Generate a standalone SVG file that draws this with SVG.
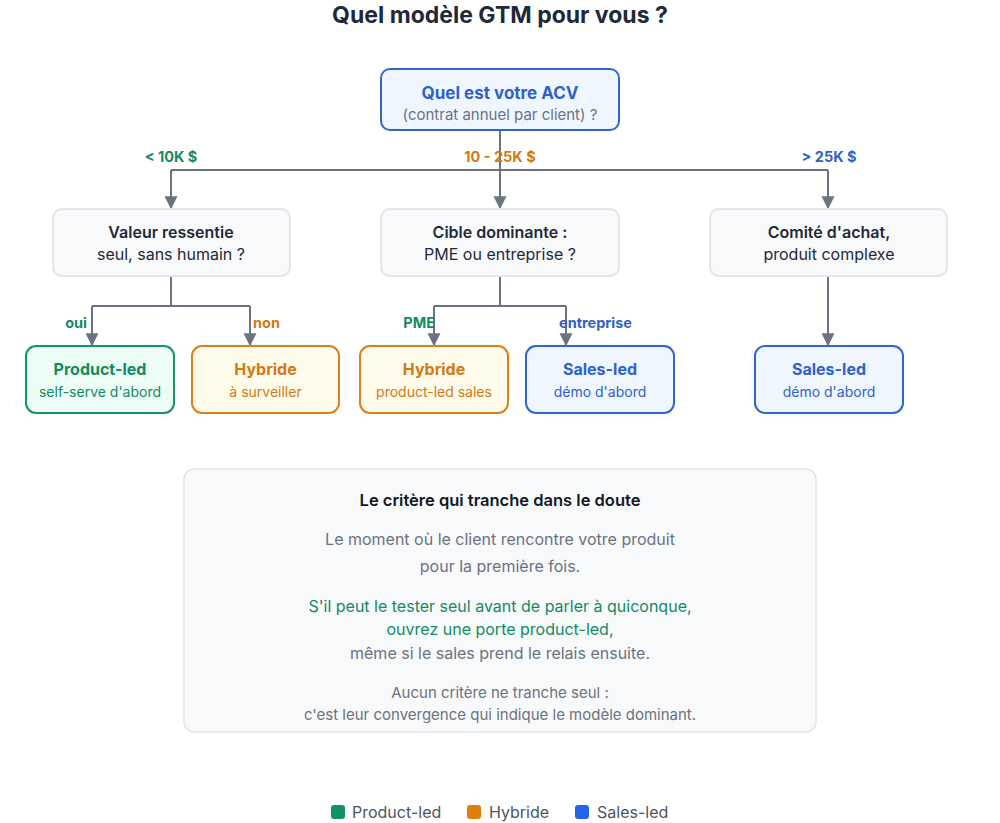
<svg xmlns="http://www.w3.org/2000/svg" width="1000" height="823" viewBox="0 0 1000 823">
<defs>
<marker id="arr" viewBox="0 0 10 10" refX="9" refY="5" markerWidth="13" markerHeight="14" orient="auto" markerUnits="userSpaceOnUse">
<path d="M0,0 L10,5 L0,10 z" fill="#6b7280"/>
</marker>
<style>
text{font-family:Inter,"Noto Sans","Liberation Sans",sans-serif;text-anchor:middle}
.title{font-size:23px;font-weight:700;fill:#1f2937}
.q{fill:#f8f9fb;stroke:#e3e5e9;stroke-width:2}
.qt{font-size:16px;font-weight:600;fill:#1f2937}
.qs{font-size:16px;fill:#1f2937}
.blueBox{fill:#eff6ff;stroke:#2f66d0;stroke-width:2}
.greenBox{fill:#ecfdf5;stroke:#17926a;stroke-width:2}
.orangeBox{fill:#fffbeb;stroke:#d9811a;stroke-width:2}
.bt{font-size:16px;font-weight:700}
.bs{font-size:14px}
.blue{fill:#2f62c8}
.green{fill:#138a62}
.orange{fill:#d27914}
.gray{fill:#6b7280}
.lbl{font-size:14.5px;font-weight:700}
.conn{fill:none;stroke:#6b7280;stroke-width:2}
.panel{fill:#f8f9fb;stroke:#e3e5e9;stroke-width:1.5}
.pt{font-size:16.5px;font-weight:600;fill:#111827}
.pl{font-size:16px}
.ps{font-size:15px}
.leg{font-size:16px;fill:#4b5563;text-anchor:start}
</style>
</defs>
<rect width="1000" height="823" fill="#ffffff"/>
<text class="title" x="500" y="23">Quel modèle GTM pour vous ?</text>

<g id="connectors">
<path class="conn" d="M500,130 V170 M171,170 H828"/>
<path class="conn" d="M171,170 V208" marker-end="url(#arr)"/>
<path class="conn" d="M500,170 V208" marker-end="url(#arr)"/>
<path class="conn" d="M828,170 V208" marker-end="url(#arr)"/>
<path class="conn" d="M171,277 V306 M92,306 H250"/>
<path class="conn" d="M92,306 V345" marker-end="url(#arr)"/>
<path class="conn" d="M250,306 V345" marker-end="url(#arr)"/>
<path class="conn" d="M500,277 V306 M434,306 H566"/>
<path class="conn" d="M434,306 V345" marker-end="url(#arr)"/>
<path class="conn" d="M566,306 V345" marker-end="url(#arr)"/>
<path class="conn" d="M828,277 V345" marker-end="url(#arr)"/>
<text class="lbl green" x="171" y="162">&lt; 10K $</text>
<text class="lbl orange" x="500" y="162">10 - 25K $</text>
<text class="lbl blue" x="829" y="162">&gt; 25K $</text>
<text class="lbl green" x="87" y="328" style="text-anchor:end">oui</text>
<text class="lbl orange" x="253" y="328" style="text-anchor:start">non</text>
<text class="lbl green" x="435" y="328" style="text-anchor:end">PME</text>
<text class="lbl blue" x="559" y="328" style="text-anchor:start">entreprise</text>
</g>

<g id="acv">
<rect class="blueBox" x="381" y="69" width="238" height="61" rx="9"/>
<text class="bt blue" x="500" y="99" style="font-size:17px">Quel est votre ACV</text>
<text class="bs gray" x="500" y="120" style="font-size:15px">(contrat annuel par client) ?</text>
</g>

<g id="valeur">
<rect class="q" x="53" y="209" width="237" height="67" rx="9"/>
<text class="qt" x="171" y="238">Valeur ressentie</text>
<text class="qs" x="171" y="260">seul, sans humain ?</text>
</g>
<g id="cible">
<rect class="q" x="381" y="209" width="238" height="67" rx="9"/>
<text class="qt" x="500" y="238">Cible dominante :</text>
<text class="qs" x="500" y="260">PME ou entreprise ?</text>
</g>
<g id="comite">
<rect class="q" x="710" y="209" width="237" height="67" rx="9"/>
<text class="qt" x="829" y="238">Comité d'achat,</text>
<text class="qs" x="829" y="260">produit complexe</text>
</g>

<g id="productled">
<rect class="greenBox" x="26" y="346" width="148" height="67" rx="10"/>
<text class="bt green" x="100" y="375">Product-led</text>
<text class="bs green" x="100" y="397">self-serve d'abord</text>
</g>
<g id="hybride1">
<rect class="orangeBox" x="192" y="346" width="147" height="67" rx="10"/>
<text class="bt orange" x="265.5" y="375">Hybride</text>
<text class="bs orange" x="265.5" y="397">à surveiller</text>
</g>
<g id="hybride2">
<rect class="orangeBox" x="360" y="346" width="148" height="67" rx="10"/>
<text class="bt orange" x="434" y="375">Hybride</text>
<text class="bs orange" x="434" y="397">product-led sales</text>
</g>
<g id="salesled1">
<rect class="blueBox" x="526" y="346" width="148" height="67" rx="10"/>
<text class="bt blue" x="600" y="375">Sales-led</text>
<text class="bs blue" x="600" y="397">démo d'abord</text>
</g>
<g id="salesled2">
<rect class="blueBox" x="755" y="346" width="148" height="67" rx="10"/>
<text class="bt blue" x="829" y="375">Sales-led</text>
<text class="bs blue" x="829" y="397">démo d'abord</text>
</g>

<g id="panel">
<rect class="panel" x="184" y="469" width="632" height="263" rx="10"/>
<text class="pt" x="500" y="506">Le critère qui tranche dans le doute</text>
<text class="pl gray" x="500" y="545">Le moment où le client rencontre votre produit</text>
<text class="pl gray" x="500" y="572">pour la première fois.</text>
<text class="pl green" x="500" y="612">S'il peut le tester seul avant de parler à quiconque,</text>
<text class="pl green" x="500" y="635">ouvrez une porte product-led,</text>
<text class="pl gray" x="500" y="659">même si le sales prend le relais ensuite.</text>
<text class="ps gray" x="500" y="698">Aucun critère ne tranche seul :</text>
<text class="ps gray" x="500" y="720">c'est leur convergence qui indique le modèle dominant.</text>
</g>

<g id="legend">
<rect x="331" y="805" width="14" height="14" rx="3" fill="#0f9467"/>
<text class="leg" x="352" y="818">Product-led</text>
<rect x="467" y="805" width="14" height="14" rx="3" fill="#de7e0c"/>
<text class="leg" x="489" y="818">Hybride</text>
<rect x="575" y="805" width="14" height="14" rx="3" fill="#2563eb"/>
<text class="leg" x="597" y="818">Sales-led</text>
</g>
</svg>
